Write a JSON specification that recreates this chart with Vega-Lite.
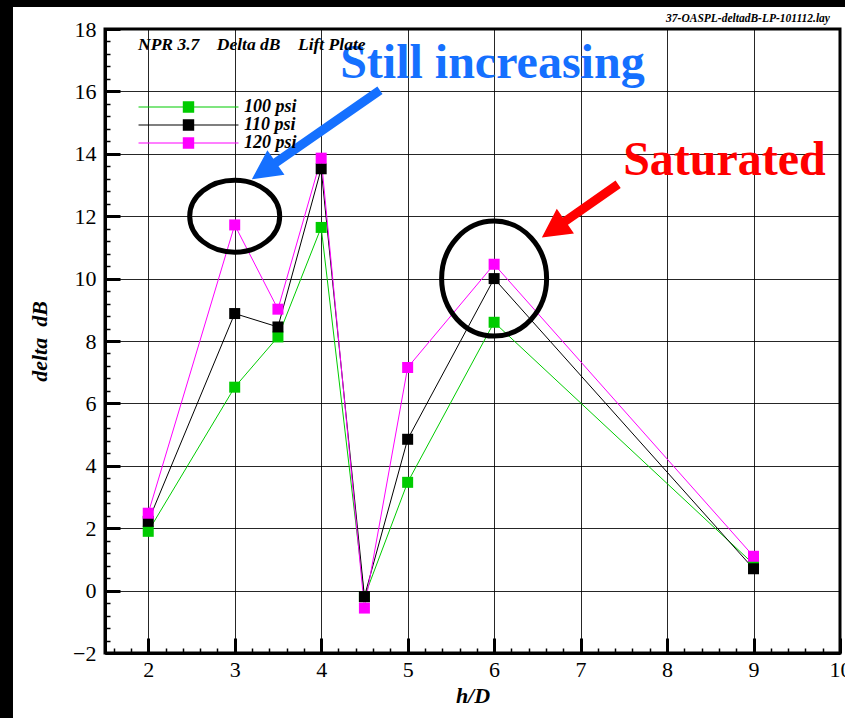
{
  "$schema": "https://vega.github.io/schema/vega-lite/v6.json",
  "width": 735,
  "height": 624,
  "autosize": {"type": "none"},
  "padding": {"left": 105, "top": 29, "right": 5, "bottom": 65},
  "background": "white",
  "config": {"view": {"stroke": "#000", "strokeWidth": 3}},
  "datasets": {
    "deltadB": [
      {"hD": 2, "dB": 1.9, "series": "100 psi"},
      {"hD": 3, "dB": 6.52, "series": "100 psi"},
      {"hD": 3.5, "dB": 8.13, "series": "100 psi"},
      {"hD": 4, "dB": 11.64, "series": "100 psi"},
      {"hD": 4.5, "dB": -0.2, "series": "100 psi"},
      {"hD": 5, "dB": 3.47, "series": "100 psi"},
      {"hD": 6, "dB": 8.6, "series": "100 psi"},
      {"hD": 9, "dB": 0.85, "series": "100 psi"},
      {"hD": 2, "dB": 2.22, "series": "110 psi"},
      {"hD": 3, "dB": 8.88, "series": "110 psi"},
      {"hD": 3.5, "dB": 8.45, "series": "110 psi"},
      {"hD": 4, "dB": 13.52, "series": "110 psi"},
      {"hD": 4.5, "dB": -0.19, "series": "110 psi"},
      {"hD": 5, "dB": 4.85, "series": "110 psi"},
      {"hD": 6, "dB": 10.0, "series": "110 psi"},
      {"hD": 9, "dB": 0.7, "series": "110 psi"},
      {"hD": 2, "dB": 2.48, "series": "120 psi"},
      {"hD": 3, "dB": 11.72, "series": "120 psi"},
      {"hD": 3.5, "dB": 9.02, "series": "120 psi"},
      {"hD": 4, "dB": 13.86, "series": "120 psi"},
      {"hD": 4.5, "dB": -0.56, "series": "120 psi"},
      {"hD": 5, "dB": 7.15, "series": "120 psi"},
      {"hD": 6, "dB": 10.46, "series": "120 psi"},
      {"hD": 9, "dB": 1.1, "series": "120 psi"}
    ],
    "one": [{}]
  },
  "resolve": {"axis": {"x": "independent", "y": "independent"}},
  "layer": [
    {
      "description": "dark frame strip on the left edge",
      "data": {"name": "one"},
      "mark": {"type": "rect", "color": "#000"},
      "encoding": {
        "x": {"datum": -5, "type": "quantitative", "scale": {"domain": [1.5, 10], "nice": false, "zero": false}, "axis": null},
        "x2": {"datum": 0.436},
        "y": {"datum": 25, "type": "quantitative", "scale": {"domain": [-2, 18], "nice": false, "zero": false}, "axis": null},
        "y2": {"datum": -10}
      }
    },
    {
      "description": "dark frame strip on the top edge",
      "data": {"name": "one"},
      "mark": {"type": "rect", "color": "#000"},
      "encoding": {
        "x": {"datum": -5, "type": "quantitative", "axis": null},
        "x2": {"datum": 15},
        "y": {"datum": 25, "type": "quantitative", "axis": null},
        "y2": {"datum": 18.705}
      }
    },
    {
      "data": {"name": "deltadB"},
      "mark": {"type": "line", "strokeWidth": 1},
      "encoding": {
        "x": {
          "field": "hD", "type": "quantitative",
          "scale": {"domain": [1.5, 10], "nice": false, "zero": false},
          "axis": {
            "orient": "bottom",
            "values": [2, 3, 4, 5, 6, 7, 8, 9, 10],
            "format": "d",
            "title": "h/D",
            "grid": true, "gridColor": "#000", "gridWidth": 1, "gridOpacity": 0.85,
            "domain": true, "domainColor": "#000", "domainWidth": 3,
            "ticks": true, "tickSize": -15, "tickWidth": 3, "tickColor": "#000",
            "labelFont": "Liberation Serif", "labelFontSize": 22, "labelColor": "#000",
            "labelPadding": 21, "labelFlush": false, "labelOverlap": false,
            "titleFont": "Liberation Serif", "titleFontSize": 22, "titleFontStyle": "italic",
            "titleFontWeight": "bold", "titleColor": "#000",
            "titleX": 367.5, "titleY": 49, "titleBaseline": "alphabetic"
          }
        },
        "y": {
          "field": "dB", "type": "quantitative",
          "scale": {"domain": [-2, 18], "nice": false, "zero": false},
          "axis": {
            "orient": "left",
            "values": [-2, 0, 2, 4, 6, 8, 10, 12, 14, 16, 18],
            "format": "d",
            "title": "delta\u00a0\u00a0dB",
            "grid": true, "gridColor": "#000", "gridWidth": 1, "gridOpacity": 0.85,
            "domain": true, "domainColor": "#000", "domainWidth": 3,
            "ticks": true, "tickSize": -15, "tickWidth": 3, "tickColor": "#000",
            "labelFont": "Liberation Serif", "labelFontSize": 22, "labelColor": "#000",
            "labelPadding": 24, "labelFlush": false, "labelOverlap": false,
            "titleFont": "Liberation Serif", "titleFontSize": 22, "titleFontStyle": "italic",
            "titleFontWeight": "bold", "titleColor": "#000",
            "titleAngle": -90, "titleX": -59, "titleY": 312, "titleBaseline": "alphabetic", "titleAlign": "center"
          }
        },
        "color": {
          "field": "series", "type": "nominal",
          "scale": {"domain": ["100 psi", "110 psi", "120 psi"], "range": ["#00cc00", "#000000", "#ff00ff"]}
        }
      }
    },
    {
      "data": {"name": "deltadB"},
      "mark": {"type": "point", "shape": "square", "filled": true, "size": 121, "opacity": 1},
      "encoding": {
        "x": {
          "field": "hD", "type": "quantitative",
          "axis": {
            "orient": "bottom",
            "values": [1.6, 1.8, 2.2, 2.4, 2.6, 2.8, 3.2, 3.4, 3.6, 3.8, 4.2, 4.4, 4.6, 4.8, 5.2, 5.4, 5.6, 5.8, 6.2, 6.4, 6.6, 6.8, 7.2, 7.4, 7.6, 7.8, 8.2, 8.4, 8.6, 8.8, 9.2, 9.4, 9.6, 9.8],
            "title": null, "labels": false, "grid": false, "domain": false,
            "ticks": true, "tickSize": -5, "tickWidth": 1.5, "tickColor": "#000"
          }
        },
        "y": {
          "field": "dB", "type": "quantitative",
          "axis": {
            "orient": "left",
            "values": [-1.6, -1.2, -0.8, -0.4, 0.4, 0.8, 1.2, 1.6, 2.4, 2.8, 3.2, 3.6, 4.4, 4.8, 5.2, 5.6, 6.4, 6.8, 7.2, 7.6, 8.4, 8.8, 9.2, 9.6, 10.4, 10.8, 11.2, 11.6, 12.4, 12.8, 13.2, 13.6, 14.4, 14.8, 15.2, 15.6, 16.4, 16.8, 17.2, 17.6],
            "title": null, "labels": false, "grid": false, "domain": false,
            "ticks": true, "tickSize": -5, "tickWidth": 1.5, "tickColor": "#000"
          }
        },
        "color": {
          "field": "series", "type": "nominal",
          "legend": {
            "orient": "none", "legendX": 74.5, "legendY": 69,
            "title": null, "padding": 0, "rowPadding": -2.5,
            "symbolType": "M-8.33,0H8.33M-0.85,-0.85H0.85V0.85H-0.85Z",
            "symbolSize": 144, "symbolStrokeWidth": 1.2, "symbolOpacity": 1,
            "labelFont": "Liberation Serif", "labelFontSize": 18, "labelFontStyle": "italic",
            "labelFontWeight": "bold", "labelColor": "#000", "labelOffset": 46.5,
            "encode": {
              "symbols": {
                "update": {
                  "fill": {"scale": "color", "field": "value"},
                  "stroke": {"scale": "color", "field": "value"}
                }
              }
            }
          }
        }
      }
    },
    {
      "description": "ring around the 120 psi peak at h/D = 3",
      "data": {"name": "one"},
      "mark": {"type": "point", "shape": "M-1,0A1,0.8,0,1,1,1,0A1,0.8,0,1,1,-1,0Z", "size": 8100, "filled": false, "stroke": "#000", "strokeWidth": 5, "opacity": 1},
      "encoding": {
        "x": {"datum": 3, "type": "quantitative", "axis": null},
        "y": {"datum": 12, "type": "quantitative", "axis": null}
      }
    },
    {
      "description": "ring around the h/D = 6 cluster",
      "data": {"name": "one"},
      "mark": {"type": "point", "shape": "M-0.913,0A0.913,1,0,1,1,0.913,0A0.913,1,0,1,1,-0.913,0Z", "size": 13225, "filled": false, "stroke": "#000", "strokeWidth": 5, "opacity": 1},
      "encoding": {
        "x": {"datum": 6, "type": "quantitative", "axis": null},
        "y": {"datum": 10, "type": "quantitative", "axis": null}
      }
    },
    {
      "description": "blue arrow toward the first ring",
      "data": {"name": "one"},
      "mark": {"type": "point", "shape": "M-1,-0.058L0.624,-0.058L0.624,-0.192L1,0L0.624,0.192L0.624,0.058L-1,0.058Z", "size": 24336, "angle": 145.2, "filled": true, "color": "#1570ff", "opacity": 1},
      "encoding": {
        "x": {"datum": 3.939, "type": "quantitative", "axis": null},
        "y": {"datum": 14.61, "type": "quantitative", "axis": null}
      }
    },
    {
      "description": "red arrow toward the second ring",
      "data": {"name": "one"},
      "mark": {"type": "point", "shape": "M-1,-0.097L0.383,-0.097L0.383,-0.323L1,0L0.383,0.323L0.383,0.097L-1,0.097Z", "size": 8649, "angle": 145.1, "filled": true, "color": "#ff0000", "opacity": 1},
      "encoding": {
        "x": {"datum": 6.993, "type": "quantitative", "axis": null},
        "y": {"datum": 12.17, "type": "quantitative", "axis": null}
      }
    },
    {
      "data": {"name": "one"},
      "mark": {"type": "text", "text": "Still increasing", "font": "Liberation Serif", "fontSize": 48, "fontWeight": "bold", "color": "#1570ff", "align": "center", "baseline": "alphabetic"},
      "encoding": {
        "x": {"datum": 5.98, "type": "quantitative", "axis": null},
        "y": {"datum": 16.43, "type": "quantitative", "axis": null}
      }
    },
    {
      "data": {"name": "one"},
      "mark": {"type": "text", "text": "Saturated", "font": "Liberation Serif", "fontSize": 48, "fontWeight": "bold", "color": "#ff0000", "align": "center", "baseline": "alphabetic"},
      "encoding": {
        "x": {"datum": 8.664, "type": "quantitative", "axis": null},
        "y": {"datum": 13.32, "type": "quantitative", "axis": null}
      }
    },
    {
      "data": {"name": "one"},
      "mark": {"type": "text", "text": "NPR 3.7\u00a0\u00a0\u00a0\u00a0Delta dB\u00a0\u00a0\u00a0\u00a0Lift Plate", "font": "Liberation Serif", "fontSize": 17.5, "fontStyle": "italic", "fontWeight": "bold", "color": "#000", "align": "left", "baseline": "alphabetic"},
      "encoding": {
        "x": {"datum": 1.882, "type": "quantitative", "axis": null},
        "y": {"datum": 17.33, "type": "quantitative", "axis": null}
      }
    },
    {
      "description": "layout file name above the frame",
      "data": {"name": "one"},
      "mark": {"type": "text", "text": "37-OASPL-deltadB-LP-101112.lay", "font": "Liberation Serif", "fontSize": 11.5, "fontStyle": "italic", "fontWeight": "bold", "color": "#000", "align": "right", "baseline": "alphabetic"},
      "encoding": {
        "x": {"datum": 9.884, "type": "quantitative", "axis": null},
        "y": {"datum": 18.21, "type": "quantitative", "axis": null}
      }
    }
  ]
}
